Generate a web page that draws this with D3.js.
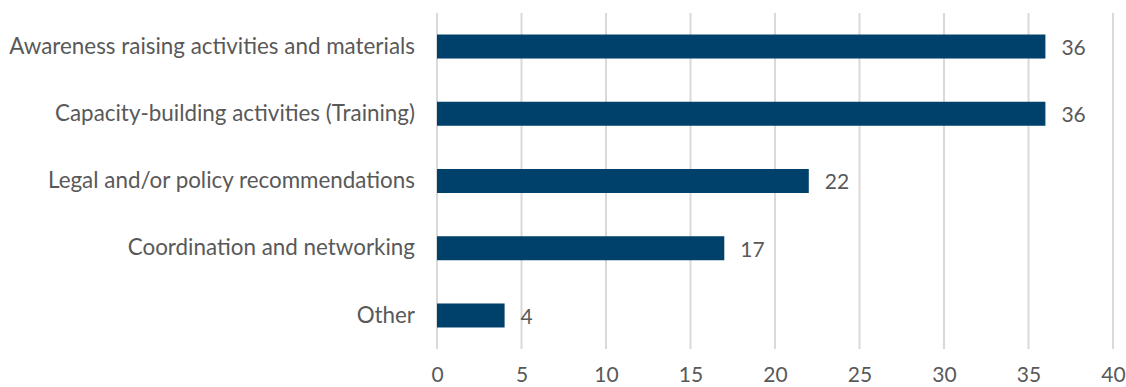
<!DOCTYPE html>
<html>
<head>
<meta charset="utf-8">
<script src="https://cdn.jsdelivr.net/npm/d3@7"></script>
<style>
  html, body { margin: 0; padding: 0; background: #ffffff; }
  svg text { font-family: "Lato", "Open Sans", sans-serif; fill: #595959; }
</style>
</head>
<body>
<svg id="chart" width="1126" height="387"></svg>
<script>
const categories = [
  "Awareness raising activities and materials",
  "Capacity-building activities (Training)",
  "Legal and/or policy recommendations",
  "Coordination and networking",
  "Other"
];
const values = [36, 36, 22, 17, 4];
const tickValues = [0, 5, 10, 15, 20, 25, 30, 35, 40];

const svg = d3.select("#chart");
const margin = { left: 437, right: 13, top: 13, bottom: 38 };
const width = 1126, height = 387;
const fontStack = '"Lato", "Open Sans", sans-serif';

const x = d3.scaleLinear().domain([0, 40]).range([margin.left, width - margin.right]);
const y = d3.scaleBand().domain(categories)
  .range([margin.top, height - margin.bottom])
  .paddingInner(0.643).paddingOuter(0.32);

// vertical gridlines
svg.append("g").selectAll("line").data(tickValues).join("line")
  .attr("x1", d => x(d)).attr("x2", d => x(d))
  .attr("y1", margin.top).attr("y2", height - margin.bottom)
  .attr("stroke", "#d9d9d9").attr("stroke-width", 2);

// x axis tick labels
const xAxis = d3.axisBottom(x).tickValues(tickValues).tickSize(0).tickPadding(0);
const gx = svg.append("g").attr("transform", `translate(0,${height - 12})`).call(xAxis);
gx.select(".domain").remove();
gx.selectAll("text").attr("font-size", 21).attr("dy", "0.35em").attr("fill", "#595959")
  .style("font-family", fontStack);

// bars
svg.append("g").selectAll("rect").data(values).join("rect")
  .attr("x", x(0))
  .attr("y", (d, i) => y(categories[i]))
  .attr("width", d => x(d) - x(0))
  .attr("height", y.bandwidth())
  .attr("fill", "#00416b");

// value labels
svg.append("g").selectAll("text").data(values).join("text")
  .attr("x", d => x(d) + 16)
  .attr("y", (d, i) => y(categories[i]) + y.bandwidth() / 2 + 1)
  .attr("dy", "0.35em")
  .attr("font-size", 21)
  .text(d => d);

// category labels
const yAxis = d3.axisLeft(y).tickSize(0).tickPadding(22);
const gy = svg.append("g").attr("transform", `translate(${margin.left},0)`).call(yAxis);
gy.select(".domain").remove();
gy.selectAll("text").attr("font-size", 22.4).attr("fill", "#595959")
  .style("font-family", fontStack);
</script>
</body>
</html>
